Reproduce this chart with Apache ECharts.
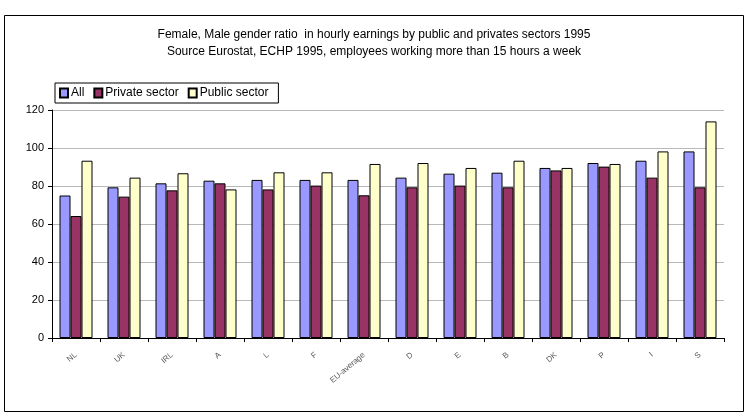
<!DOCTYPE html>
<html><head><meta charset="utf-8">
<script src="https://cdn.jsdelivr.net/npm/echarts@6/dist/echarts.min.js"></script>
<style>html,body{margin:0;padding:0;background:#fff}#c{width:748px;height:416px}</style>
</head><body><div id="c"></div>
<script>
const categories = ["NL","UK","IRL","A","L","F","EU-average","D","E","B","DK","P","I","S"];
const allValues = [75, 79.3, 81.4, 82.8, 83.2, 83.2, 83.2, 84.4, 86.5, 87, 89.5, 92.1, 93.3, 98.2];
const privateValues = [64.2, 74.4, 77.7, 81.4, 78.2, 80.2, 75.1, 79.3, 80.2, 79.3, 88.2, 90.2, 84.4, 79.3];
const publicValues = [93.3, 84.4, 86.7, 78.2, 87.2, 87.2, 91.6, 92.1, 89.5, 93.3, 89.5, 91.6, 98.2, 114];
const seriesNames = ["All", "Private sector", "Public sector"];
const yTicks = {min: 0, max: 120, interval: 20};

const font = "'Liberation Sans', Arial, sans-serif";
const chart = echarts.init(document.getElementById('c'), null, {renderer: 'canvas'});
const colors = ['#9999FF', '#993366', '#FFFFCC'];
const data = [allValues, privateValues, publicValues];
chart.setOption({
  animation: false,
  backgroundColor: '#fff',
  graphic: [{type: 'rect', shape: {x: 4.5, y: 15.5, width: 739, height: 396}, style: {fill: 'none', stroke: '#000', lineWidth: 1}, z: -1}],
  title: {
    text: 'Female, Male gender ratio  in hourly earnings by public and privates sectors 1995\nSource Eurostat, ECHP 1995, employees working more than 15 hours a week',
    left: 'center', top: 21,
    textStyle: {fontFamily: font, fontSize: 12, fontWeight: 'normal', color: '#000', lineHeight: 17}
  },
  legend: {
    data: seriesNames, left: 55, top: 83, orient: 'horizontal',
    borderColor: '#000', borderWidth: 1, padding: [4, 10, 4, 4],
    itemWidth: 8, itemHeight: 9, itemGap: 9, icon: 'rect',
    textStyle: {fontFamily: font, fontSize: 12, color: '#000', padding: [0, 0, 0, -2]}
  },
  grid: {left: 52, right: 24, top: 110, bottom: 78},
  xAxis: {
    type: 'category', data: categories,
    axisLine: {lineStyle: {color: '#000', width: 1}},
    axisTick: {show: true, length: 4, lineStyle: {color: '#000'}},
    axisLabel: {rotate: 40, fontSize: 8, color: '#555', margin: 16, fontFamily: font, interval: 0}
  },
  yAxis: {
    type: 'value', min: yTicks.min, max: yTicks.max, interval: yTicks.interval,
    axisLine: {show: true, lineStyle: {color: '#000', width: 1}},
    axisTick: {show: true, length: 4, inside: false, lineStyle: {color: '#000'}},
    axisLabel: {fontFamily: font, fontSize: 11, color: '#000', margin: 8},
    splitLine: {lineStyle: {color: '#b8b8b8', width: 1}}
  },
  series: seriesNames.map((n, i) => ({
    name: n, type: 'bar', data: data[i],
    barWidth: 11, barGap: '0%',
    itemStyle: {color: colors[i], borderColor: '#000', borderWidth: 1}
  }))
});
</script></body></html>
